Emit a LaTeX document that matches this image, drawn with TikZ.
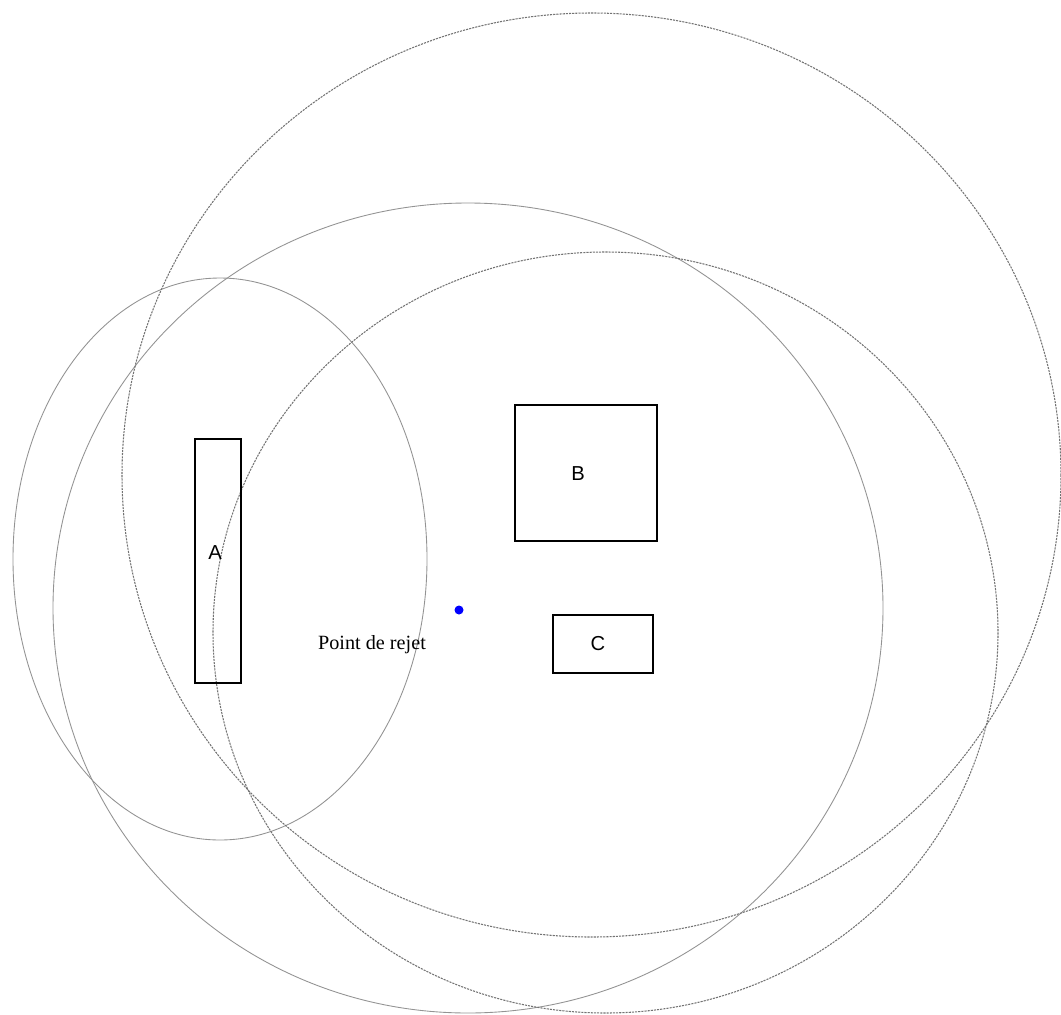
\documentclass[tikz,border=0pt]{standalone}
\usepackage{fontspec}
\setmainfont{Liberation Serif}
\newfontfamily\arialfont{Liberation Sans}
\tikzset{
  zone/.style={gray!85,line width=0.5pt},
  zonedash/.style={black!55,line width=0.6pt,dash pattern=on 1.2pt off 0.6pt},
  box/.style={line width=0.85pt},
  lbl/.style={inner sep=0pt,font=\arialfont\fontsize{11.5}{13}\selectfont},
}
\begin{document}
\begin{tikzpicture}[x=0.02cm,y=-0.02cm]
  \useasboundingbox(0,0)rectangle(1061,1014);
  % zones
  \draw[zone](220,559)ellipse(207 and 281);
  \draw[zone](468,608)ellipse(415 and 405);
  \draw[zonedash](605.5,632.5)ellipse(392.5 and 380.5);
  \draw[zonedash](591.5,475)ellipse(469.5 and 462);
  % buildings
  \draw[box](195,439)rectangle(241,683);
  \draw[box](515,405)rectangle(657,541);
  \draw[box](553,615)rectangle(653,673);
  \node[lbl](A)at(215,553){A};
  \node[lbl](B)at(578,474){B};
  \node[lbl](C)at(598,644){C};
  \fill[blue](459,610)circle(0.09cm);
  \node[inner sep=0pt,font=\fontsize{11.5}{13}\selectfont](rejet)at(372,645){Point de rejet};
\end{tikzpicture}
\end{document}
